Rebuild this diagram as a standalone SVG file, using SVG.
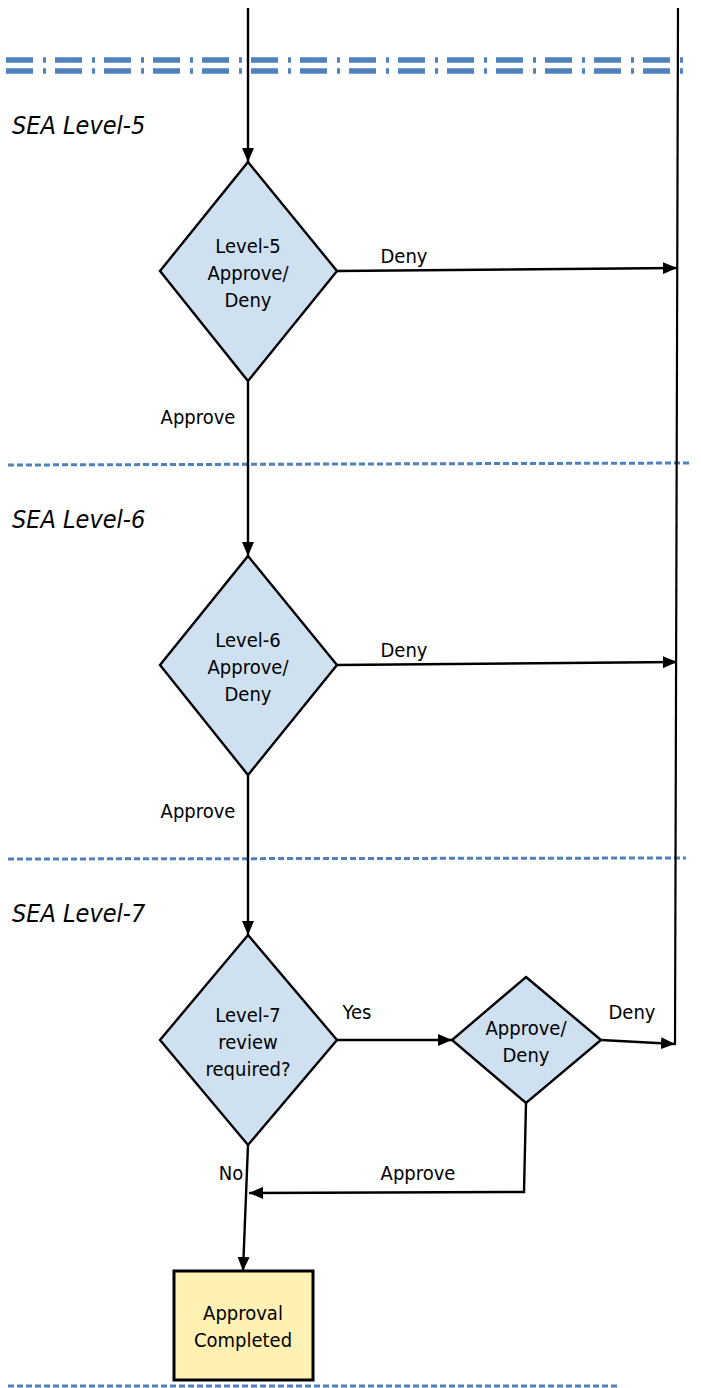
<svg xmlns="http://www.w3.org/2000/svg" width="701" height="1388" viewBox="0 0 701 1388">
<defs>
<marker id="ah" viewBox="0 0 14 12" refX="14" refY="6" markerWidth="14" markerHeight="12" markerUnits="userSpaceOnUse" orient="auto">
<path d="M0,0 L14,6 L0,12 z" fill="#000"/>
</marker>
<style>
.t{font-family:"Liberation Sans Narrow","DejaVu Sans Condensed","Liberation Sans",sans-serif;font-stretch:condensed;font-size:20px;fill:#000;text-anchor:middle}
.lane{font-family:"Liberation Sans Narrow","DejaVu Sans Condensed","Liberation Sans",sans-serif;font-stretch:condensed;font-size:25px;font-style:italic;fill:#000}
.dia{fill:#CFE0F1;stroke:#000;stroke-width:2.4}
.box{fill:#FFF0B3;stroke:#000;stroke-width:3}
.c{fill:none;stroke:#000;stroke-width:2.2}
.ca{fill:none;stroke:#000;stroke-width:2.4;marker-end:url(#ah)}
.sep{stroke:#4F81BD;stroke-width:3;stroke-dasharray:6 3}
.dd{stroke:#4F81BD;stroke-width:5.5;stroke-dasharray:27 10 3 9}
</style>
</defs>
<g id="swimlanes">
<line class="dd" x1="6" y1="60" x2="692" y2="60"/>
<line class="dd" x1="6" y1="71" x2="692" y2="71"/>
<line class="sep" x1="8" y1="465" x2="692" y2="463"/>
<line class="sep" x1="8" y1="859" x2="686" y2="858"/>
<line class="sep" x1="8" y1="1386" x2="620" y2="1386"/>
<text class="lane" x="12" y="134">SEA Level-5</text>
<text class="lane" x="12" y="528">SEA Level-6</text>
<text class="lane" x="12" y="922">SEA Level-7</text>
</g>
<g id="connectors">
<line class="ca" x1="248" y1="8" x2="248" y2="162"/>
<line class="c" x1="678" y1="8" x2="675" y2="1045"/>
<line class="ca" x1="337" y1="271" x2="677" y2="268"/>
<line class="ca" x1="248" y1="381" x2="248" y2="556"/>
<line class="ca" x1="337" y1="665" x2="677" y2="662"/>
<line class="ca" x1="248" y1="775" x2="248" y2="935"/>
<line class="ca" x1="337" y1="1040" x2="452" y2="1040"/>
<line class="ca" x1="601" y1="1040" x2="675" y2="1044"/>
<polyline class="ca" points="526,1103 524,1192 249,1193"/>
<line class="ca" x1="248" y1="1145" x2="243" y2="1271"/>
<text class="t" x="404" y="263">Deny</text>
<text class="t" x="198" y="424">Approve</text>
<text class="t" x="404" y="657">Deny</text>
<text class="t" x="198" y="818">Approve</text>
<text class="t" x="357" y="1019">Yes</text>
<text class="t" x="632" y="1019">Deny</text>
<text class="t" x="418" y="1180">Approve</text>
<text class="t" x="231" y="1180">No</text>
</g>
<g id="d5">
<polygon class="dia" points="248,162 337,271 248,381 160,271"/>
<text class="t" x="248" y="253">Level-5</text>
<text class="t" x="248" y="280">Approve/</text>
<text class="t" x="248" y="307">Deny</text>
</g>
<g id="d6">
<polygon class="dia" points="248,556 337,665 248,775 160,665"/>
<text class="t" x="248" y="647">Level-6</text>
<text class="t" x="248" y="674">Approve/</text>
<text class="t" x="248" y="701">Deny</text>
</g>
<g id="d7">
<polygon class="dia" points="248,935 337,1040 248,1145 160,1040"/>
<text class="t" x="248" y="1022">Level-7</text>
<text class="t" x="248" y="1049">review</text>
<text class="t" x="248" y="1076">required?</text>
</g>
<g id="d7b">
<polygon class="dia" points="526,977 601,1040 526,1103 452,1040"/>
<text class="t" x="526" y="1035">Approve/</text>
<text class="t" x="526" y="1062">Deny</text>
</g>
<g id="done">
<rect class="box" x="174" y="1271" width="139" height="109"/>
<text class="t" x="243" y="1320">Approval</text>
<text class="t" x="243" y="1347">Completed</text>
</g>
</svg>
